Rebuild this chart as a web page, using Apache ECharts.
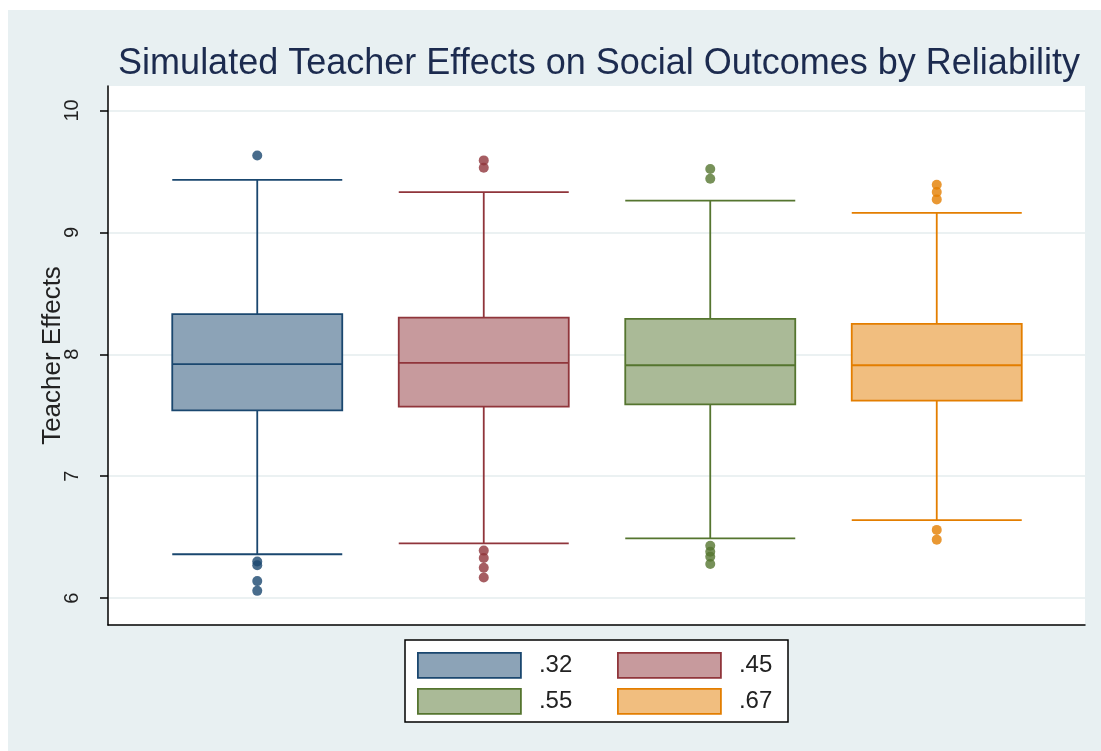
<!DOCTYPE html>
<html>
<head>
<meta charset="utf-8">
<script src="https://cdn.jsdelivr.net/npm/echarts@6/dist/echarts.min.js"></script>
<style>
  html, body { margin: 0; padding: 0; background: #ffffff; }
  #main { position: absolute; left: 8px; top: 10px; width: 1093px; height: 741px; }
</style>
</head>
<body>
<div id="main"></div>
<script>
// 資料
var categories = ['.32', '.45', '.55', '.67'];
var lowerWhisker = [6.36, 6.45, 6.49, 6.64];
var q1 = [7.54, 7.57, 7.59, 7.62];
var median = [7.92, 7.93, 7.91, 7.91];
var q3 = [8.33, 8.30, 8.29, 8.25];
var upperWhisker = [9.43, 9.33, 9.26, 9.16];
var outliers32 = [9.63, 6.30, 6.27, 6.14, 6.06];
var outliers45 = [9.59, 9.53, 6.39, 6.33, 6.25, 6.17];
var outliers55 = [9.52, 9.44, 6.43, 6.38, 6.34, 6.28];
var outliers67 = [9.39, 9.33, 9.27, 6.56, 6.48];
var yTicks = [6, 7, 8, 9, 10];

var outliers = [outliers32, outliers45, outliers55, outliers67];
var lineColors = ['#1a476f', '#90353b', '#55752f', '#e37e00'];
var fillColors = ['#8ca3b7', '#c79a9d', '#aaba97', '#f1be7f'];
var font = '"Liberation Sans", Arial, sans-serif';

var chart = echarts.init(document.getElementById('main'));

var xAxes = [{
    gridIndex: 0, type: 'value', min: 0, max: 1,
    axisLine: { show: true, onZero: false, lineStyle: { color: '#000', width: 1.5 } },
    axisTick: { show: false }, axisLabel: { show: false }, splitLine: { show: false }
}];
var series = [];
var legends = [];
var legendPos = [[409, 642], [609, 642], [409, 678], [609, 678]];

categories.forEach(function (cat, i) {
    // 每組一個 x 軸，讓箱子置中於各自類別
    xAxes.push({ gridIndex: 1, type: 'category', data: categories, show: false });
    series.push({
        name: cat,
        type: 'boxplot',
        xAxisIndex: i + 1,
        yAxisIndex: 1,
        boxWidth: [170, 170],
        encode: { x: 0, y: [1, 2, 3, 4, 5] },
        itemStyle: { color: fillColors[i], borderColor: lineColors[i], borderWidth: 1.8 },
        emphasis: { disabled: true },
        data: [[cat, lowerWhisker[i], q1[i], median[i], q3[i], upperWhisker[i]]]
    });
    series.push({
        name: cat + ' outliers',
        type: 'scatter',
        xAxisIndex: i + 1,
        yAxisIndex: 1,
        symbol: 'circle',
        symbolSize: 10,
        z: 3,
        itemStyle: { color: lineColors[i] },
        data: outliers[i].map(function (v) { return [cat, v]; })
    });
    legends.push({
        data: [{
            name: cat,
            itemStyle: { color: fillColors[i], borderColor: lineColors[i], borderWidth: 1.8 }
        }],
        left: legendPos[i][0],
        top: legendPos[i][1],
        padding: 0,
        icon: 'rect',
        itemWidth: 103,
        itemHeight: 25,
        selectedMode: false,
        textStyle: { fontFamily: font, fontSize: 24, color: '#222', padding: [0, 0, 0, 13] }
    });
});

var option = {
    backgroundColor: '#e8f0f2',
    animation: false,
    title: {
        text: 'Simulated Teacher Effects on Social Outcomes by Reliability',
        left: 586,
        top: 31,
        textAlign: 'center',
        textStyle: { fontFamily: font, fontSize: 36, fontWeight: 'normal', color: '#1c2b4f' }
    },
    legend: legends,
    grid: [
        { left: 100, top: 76, width: 977, height: 539, show: true, backgroundColor: '#ffffff', borderWidth: 0 },
        { left: 136, top: 76, width: 906, height: 539 }
    ],
    xAxis: xAxes,
    yAxis: [{
        gridIndex: 0, type: 'value', min: 5.78, max: 10.2,
        name: 'Teacher Effects',
        nameLocation: 'middle',
        nameGap: 42,
        nameMoveOverlap: false,
        nameTextStyle: { fontFamily: font, fontSize: 26, color: '#222' },
        axisLine: { show: true, lineStyle: { color: '#000', width: 1.5 } },
        axisTick: { show: true, length: 8, customValues: yTicks, lineStyle: { color: '#000', width: 1.5 } },
        axisLabel: { rotate: 90, margin: 26, fontFamily: font, fontSize: 20, color: '#222', customValues: yTicks },
        splitLine: { show: true, lineStyle: { color: '#e4ecee', width: 1.5 } }
    }, {
        gridIndex: 1, type: 'value', min: 5.78, max: 10.2, show: false, splitLine: { show: false }
    }],
    graphic: [{
        type: 'rect',
        shape: { x: 397, y: 630, width: 383, height: 82 },
        style: { fill: '#ffffff', stroke: '#000000', lineWidth: 1.5 },
        z: 1
    }],
    series: series
};

chart.setOption(option);
</script>
</body>
</html>
